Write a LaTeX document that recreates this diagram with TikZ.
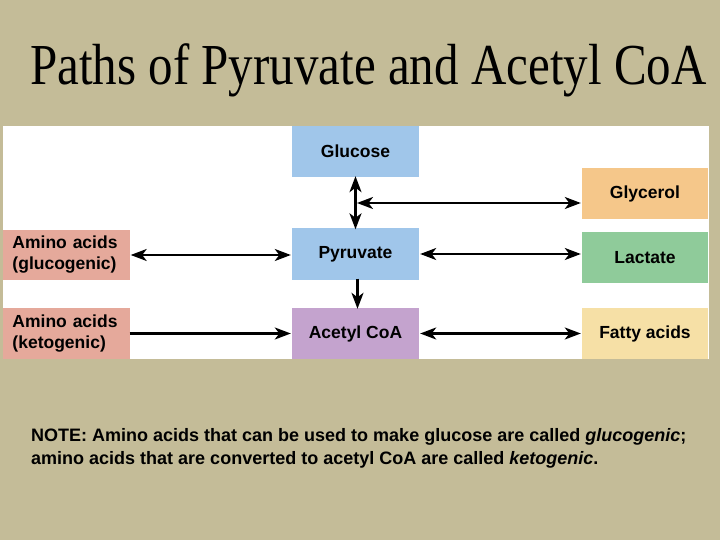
\documentclass[tikz,border=0pt]{standalone}
\usepackage{fontspec}
\setmainfont{Liberation Serif}
\newfontfamily\boxfont{Liberation Sans}
\usetikzlibrary{arrows.meta}
\definecolor{bgtan}{HTML}{C4BC98}
\definecolor{cblue}{HTML}{A0C6EA}
\definecolor{corange}{HTML}{F5C78A}
\definecolor{cgreen}{HTML}{8FCB9A}
\definecolor{cyellow}{HTML}{F6E0A6}
\definecolor{cpurple}{HTML}{C4A3CE}
\definecolor{cpink}{HTML}{E5A99B}
\tikzset{
  box/.style={rectangle, inner sep=0pt, minimum width=127pt, minimum height=51pt,
    font=\boxfont\bfseries\fontsize{17.5}{21}\selectfont, text=black},
  leftbox/.style={box, align=left, text width=107pt, inner xsep=10pt, fill=cpink},
  tipa/.tip={Stealth[length=16pt, width=12pt, inset=4.5pt]},
  conn/.style={line width=2.3pt, black, arrows={-tipa}},
  bconn/.style={line width=2.3pt, black, arrows={tipa-tipa}},
  notefont/.style={font=\boxfont\bfseries\fontsize{18}{22}\selectfont, inner sep=0pt}
}
\begin{document}
\begin{tikzpicture}[x=1pt,y=-1pt]
\fill[bgtan] (0,0) rectangle (720,540);
\useasboundingbox (0,0) rectangle (720,540);
\fill[white] (3,126) rectangle (709,359);
\node[anchor=base west, inner sep=0pt, font=\fontsize{58}{60}\selectfont] (title) at (30,85)
  {\scalebox{0.845}[1]{Paths of Pyruvate and Acetyl CoA}};
% boxes
\node[box, fill=cblue] (glucose) at (355.5,151.5) {\raisebox{-2pt}{Glucose}};
\node[box, fill=cblue] (pyruvate) at (355.5,254) {Pyruvate};
\node[box, fill=cpurple] (acetyl) at (355.5,333.5) {Acetyl CoA};
\node[box, fill=corange, minimum width=126pt] (glycerol) at (645,193.5) {Glycerol};
\node[box, fill=cgreen, minimum width=126pt] (lactate) at (645,257.5) {Lactate};
\node[box, fill=cyellow, minimum width=126pt] (fatty) at (645,333.5) {Fatty acids};
\node[leftbox, minimum height=50pt] (aminog) at (66,255) {Amino acids\\(glucogenic)};
\node[leftbox, minimum height=51pt] (aminok) at (66,333.5) {Amino acids\\(ketogenic)};
% connectors
\coordinate (join) at (357,203);
\draw[bconn] ([yshift=1pt]glucose.south) -- ([yshift=-1pt]pyruvate.north);
\draw[bconn] ([xshift=-1pt]join -| glycerol.west) -- (join);
\draw[bconn] ([xshift=1pt]pyruvate.east) -- ([xshift=-1pt]pyruvate.east -| lactate.west);
\draw[bconn] ([xshift=1pt]aminog.east) -- ([xshift=-1pt]aminog.east -| pyruvate.west);
\draw[conn] ([xshift=2pt, yshift=1pt]pyruvate.south) -- ([xshift=2pt, yshift=-1pt]acetyl.north);
\draw[bconn] ([xshift=1pt]acetyl.east) -- ([xshift=-1pt]acetyl.east -| fatty.west);
\draw[conn] (aminok.east) -- ([xshift=-1pt]aminok.east -| acetyl.west);
% note
\node[notefont, anchor=base west] (note1) at (31,441)
  {NOTE: Amino acids that can be used to make glucose are called \textit{glucogenic};};
\node[notefont, anchor=base west] (note2) at (31,464)
  {amino acids that are converted to acetyl CoA are called \textit{ketogenic}.};
\end{tikzpicture}
\end{document}
